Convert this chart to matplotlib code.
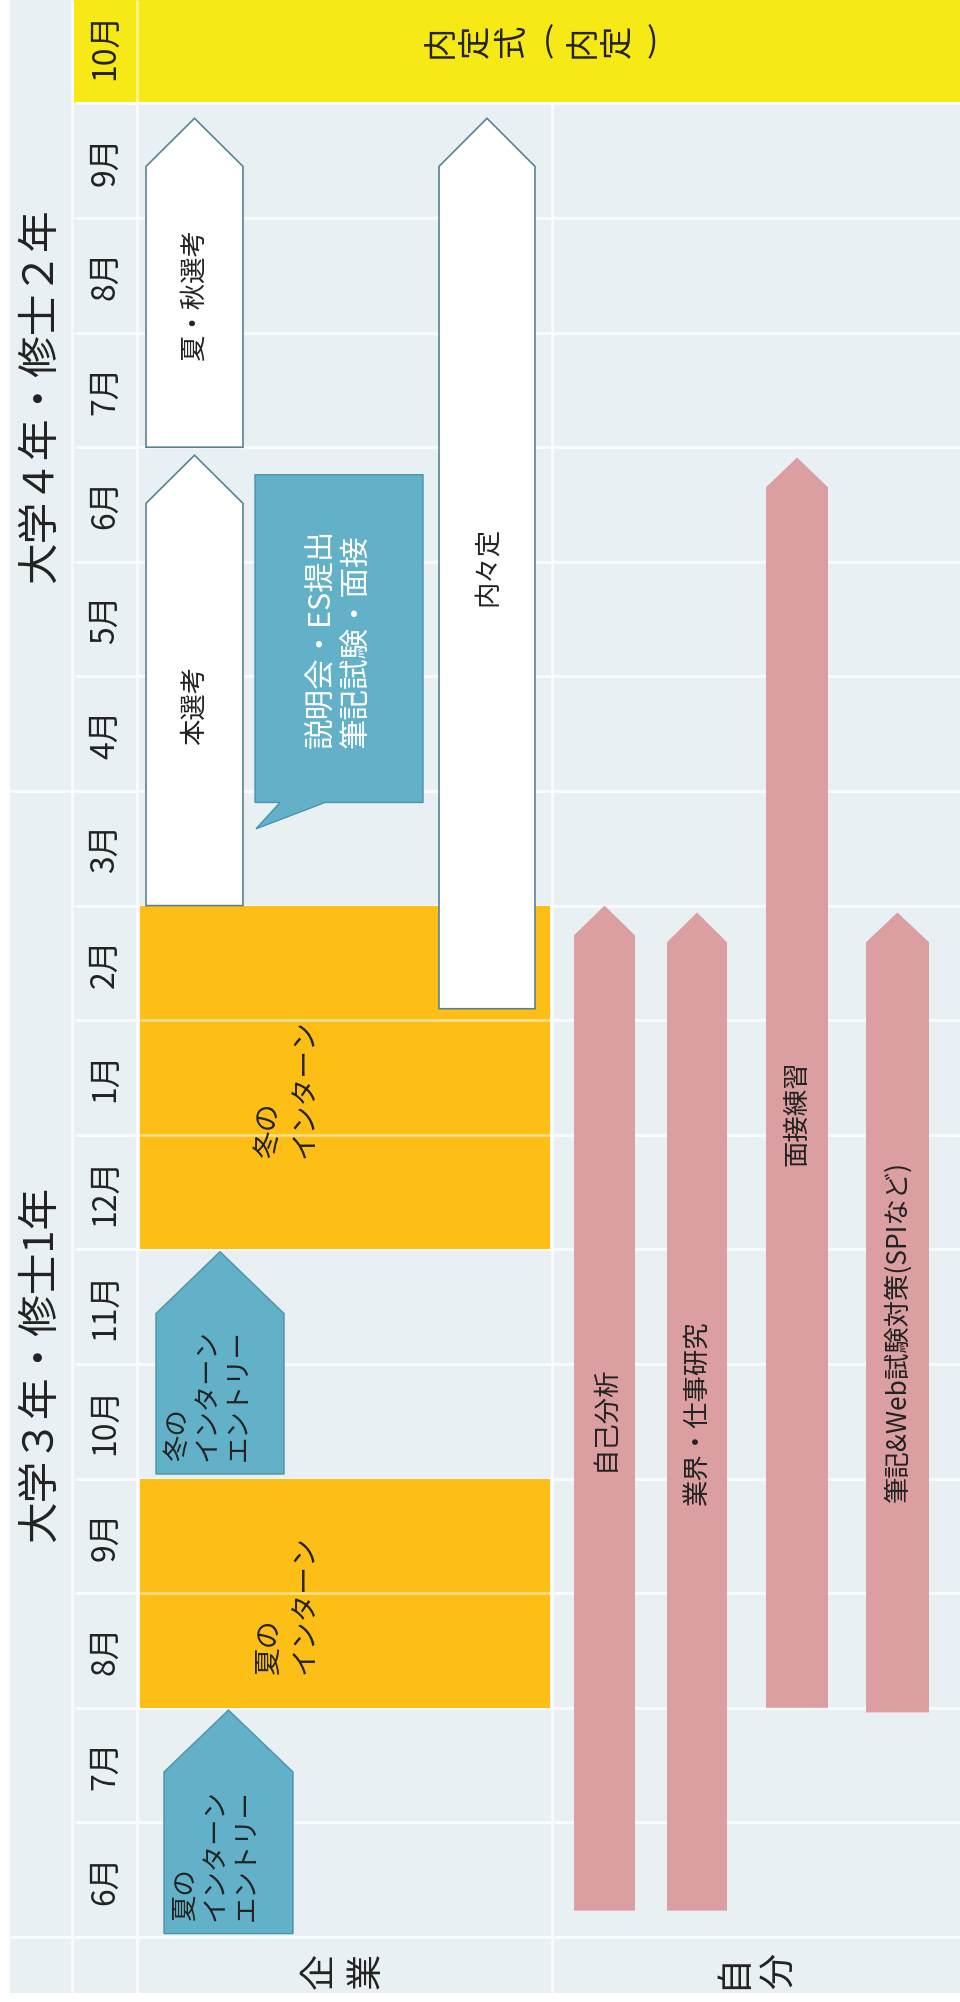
import numpy as np
import matplotlib
matplotlib.use('Agg')
import matplotlib.pyplot as plt
from matplotlib.patches import Polygon, Rectangle

plt.rcParams['font.family'] = ['Noto Sans CJK JP', 'DejaVu Sans']

# 月 (0 = 大学3年の6月)
meses = ['6月', '7月', '8月', '9月', '10月', '11月', '12月', '1月', '2月', '3月',
         '4月', '5月', '6月', '7月', '8月', '9月', '10月']

# 学年
years = ['大学３年・修士1年', '大学４年・修士２年']
year_start = [0, 10]

# 企業側: インターン
intern_labels = ['夏の\nインターン', '冬の\nインターン']
intern_start = [2, 6]
intern_end = [4, 9]

# 企業側: インターンエントリー
entry_labels = ['夏の\nインターン\nエントリー', '冬の\nインターン\nエントリー']
entry_start = [0.03, 4.04]
entry_end = [1.98, 5.98]

# 企業側: 選考
select_labels = ['本選考', '夏・秋選考', '内々定']
select_start = [9.0, 13.0, 8.1]
select_end = [12.93, 15.87, 15.87]

# 吹き出し
callout_label = '説明会・ES提出\n筆記試験・面接'
callout_start = 9.9
callout_end = 12.76
callout_tail = 9.67

# 自分側
self_labels = ['自己分析', '業界・仕事研究', '面接練習', '筆記&Web試験対策(SPIなど)']
self_start = [0.23, 0.23, 2.0, 1.96]
self_end = [9.0, 8.94, 12.91, 8.94]

naitei_label = '内定式（内定）'
naitei_start = 16
lanes = ['企業', '自分']

# ---- レイアウト (x はピクセル, y は月) ----
W, H = 960, 2002
PX_MONTH = 114.6
Y0_PX = 1937
y_low = -(H - Y0_PX) / PX_MONTH
y_top = Y0_PX / PX_MONTH
y_lane_bottom = -(1993 - Y0_PX) / PX_MONTH

BG = '#e9f0f3'
GRID = '#f8fafb'
YELLOW = '#f7e916'
AMBER = '#fdbf16'
TEAL = '#63b1c8'
TEAL_EDGE = '#4a93aa'
WHITE_EDGE = '#5a8391'
PINK = '#dc9fa1'
TXT = '#222222'

fig = plt.figure(figsize=(W / 100, H / 100), dpi=100)
ax = fig.add_axes([0, 0, 1, 1])
ax.set_xlim(0, W)
ax.set_ylim(y_low, y_top)
ax.axis('off')

# 背景
ax.add_patch(Rectangle((10, y_lane_bottom), W - 10, y_top - y_lane_bottom,
                       fc=BG, ec='none', zorder=0))
ax.add_patch(Rectangle((73, naitei_start), W - 73, y_top - naitei_start,
                       fc=YELLOW, ec='none', zorder=1))

# 罫線
glw = 2.2
ax.hlines(np.arange(1, len(meses)), 75, W, color=GRID, lw=glw, zorder=1.5)
ax.hlines([0, year_start[1]], 10, W, color=GRID, lw=glw, zorder=1.5)
ax.vlines(72, y_lane_bottom, y_top, color=GRID, lw=glw, zorder=1.5)
ax.vlines(137, y_lane_bottom, naitei_start, color=GRID, lw=glw, zorder=1.5)
ax.vlines(137, naitei_start, y_top, color='white', alpha=0.5, lw=glw, zorder=1.5)
ax.vlines(552, y_lane_bottom, naitei_start, color=GRID, lw=glw, zorder=1.5)


def rtext(x, y, s, size, color=TXT, ha='center', va='center', **kw):
    ax.text(x, y, s, rotation=90, rotation_mode='anchor', ha=ha, va=va,
            fontsize=size, color=color, zorder=6, **kw)


def pentagon(x0, x1, start, end, head, fc, ec, lw):
    xc = (x0 + x1) / 2
    pts = [(x0, start), (x1, start), (x1, end - head), (xc, end), (x0, end - head)]
    ax.add_patch(Polygon(pts, closed=True, fc=fc, ec=ec, lw=lw, zorder=4,
                         joinstyle='miter'))


# 月ラベル・学年
for i, m in enumerate(meses):
    rtext(105, i + 0.5, m, 23)
year_end = [year_start[1], y_top]
for lab, s, e in zip(years, year_start, year_end):
    rtext(40, (s + e) / 2, lab, 30)

# インターン (オレンジ)
for lab, s, e in zip(intern_labels, intern_start, intern_end):
    ax.add_patch(Rectangle((140, s), 410, e - s, fc=AMBER, ec='none', zorder=2))
    ax.hlines(np.arange(s + 1, e), 140, 550, color='white', alpha=0.55, lw=1.8, zorder=2.5)
    rtext(287, (s + e) / 2 - 0.1, lab, 20, multialignment='left', linespacing=1.25)

# インターンエントリー (青)
entry_x = [(164, 293), (156, 284)]
for lab, s, e, (x0, x1) in zip(entry_labels, entry_start, entry_end, entry_x):
    pentagon(x0, x1, s, e, 0.54, TEAL, TEAL_EDGE, 1.0)
    rtext(x0 + 8, s + 0.11, lab, 19, ha='left', va='top', multialignment='left',
          linespacing=1.15)

# 選考 (白)
select_x = [(146, 243), (146, 243), (439, 535)]
select_ty = [10.75, 14.33, 11.96]
for lab, s, e, (x0, x1), ty in zip(select_labels, select_start, select_end,
                                   select_x, select_ty):
    pentagon(x0, x1, s, e, 0.42, 'white', WHITE_EDGE, 1.2)
    rtext((x0 + x1) / 2, ty, lab, 19)

# 吹き出し
cx0, cx1 = 255, 423
pts = [(cx0, callout_start), (280, callout_start), (256, callout_tail),
       (325, callout_start), (cx1, callout_start), (cx1, callout_end),
       (cx0, callout_end)]
ax.add_patch(Polygon(pts, closed=True, fc=TEAL, ec=TEAL_EDGE, lw=1.0, zorder=4))
rtext((cx0 + cx1) / 2, (callout_start + callout_end) / 2, callout_label, 22,
      color='white', multialignment='left', linespacing=1.15)

# 自分側 (ピンク)
self_x = [(574, 635), (667, 727), (766, 828), (866, 929)]
self_ty = [4.53, 4.57, 7.19, 5.28]
for lab, s, e, (x0, x1), ty in zip(self_labels, self_start, self_end, self_x, self_ty):
    pentagon(x0, x1, s, e, 0.26, PINK, PINK, 0)
    rtext((x0 + x1) / 2, ty, lab, 19)

# 内定式 (縦書き風)
naitei_x = [440, 476, 512, 548, 582, 618, 652]
for ch, x in zip(naitei_label, naitei_x):
    if ch in '（）':
        ax.text(x, naitei_start + 0.53, '(' if ch == '（' else ')', fontsize=24,
                ha='center', va='center', color=TXT, zorder=6)
    else:
        rtext(x, naitei_start + 0.54, ch, 24)

# レーン名
lane_x = [(320, 367), (733, 780)]
for lab, xs in zip(lanes, lane_x):
    for ch, x in zip(lab, xs):
        rtext(x, -0.3, ch, 26)

fig.savefig('out.png', dpi=100, facecolor='white')
